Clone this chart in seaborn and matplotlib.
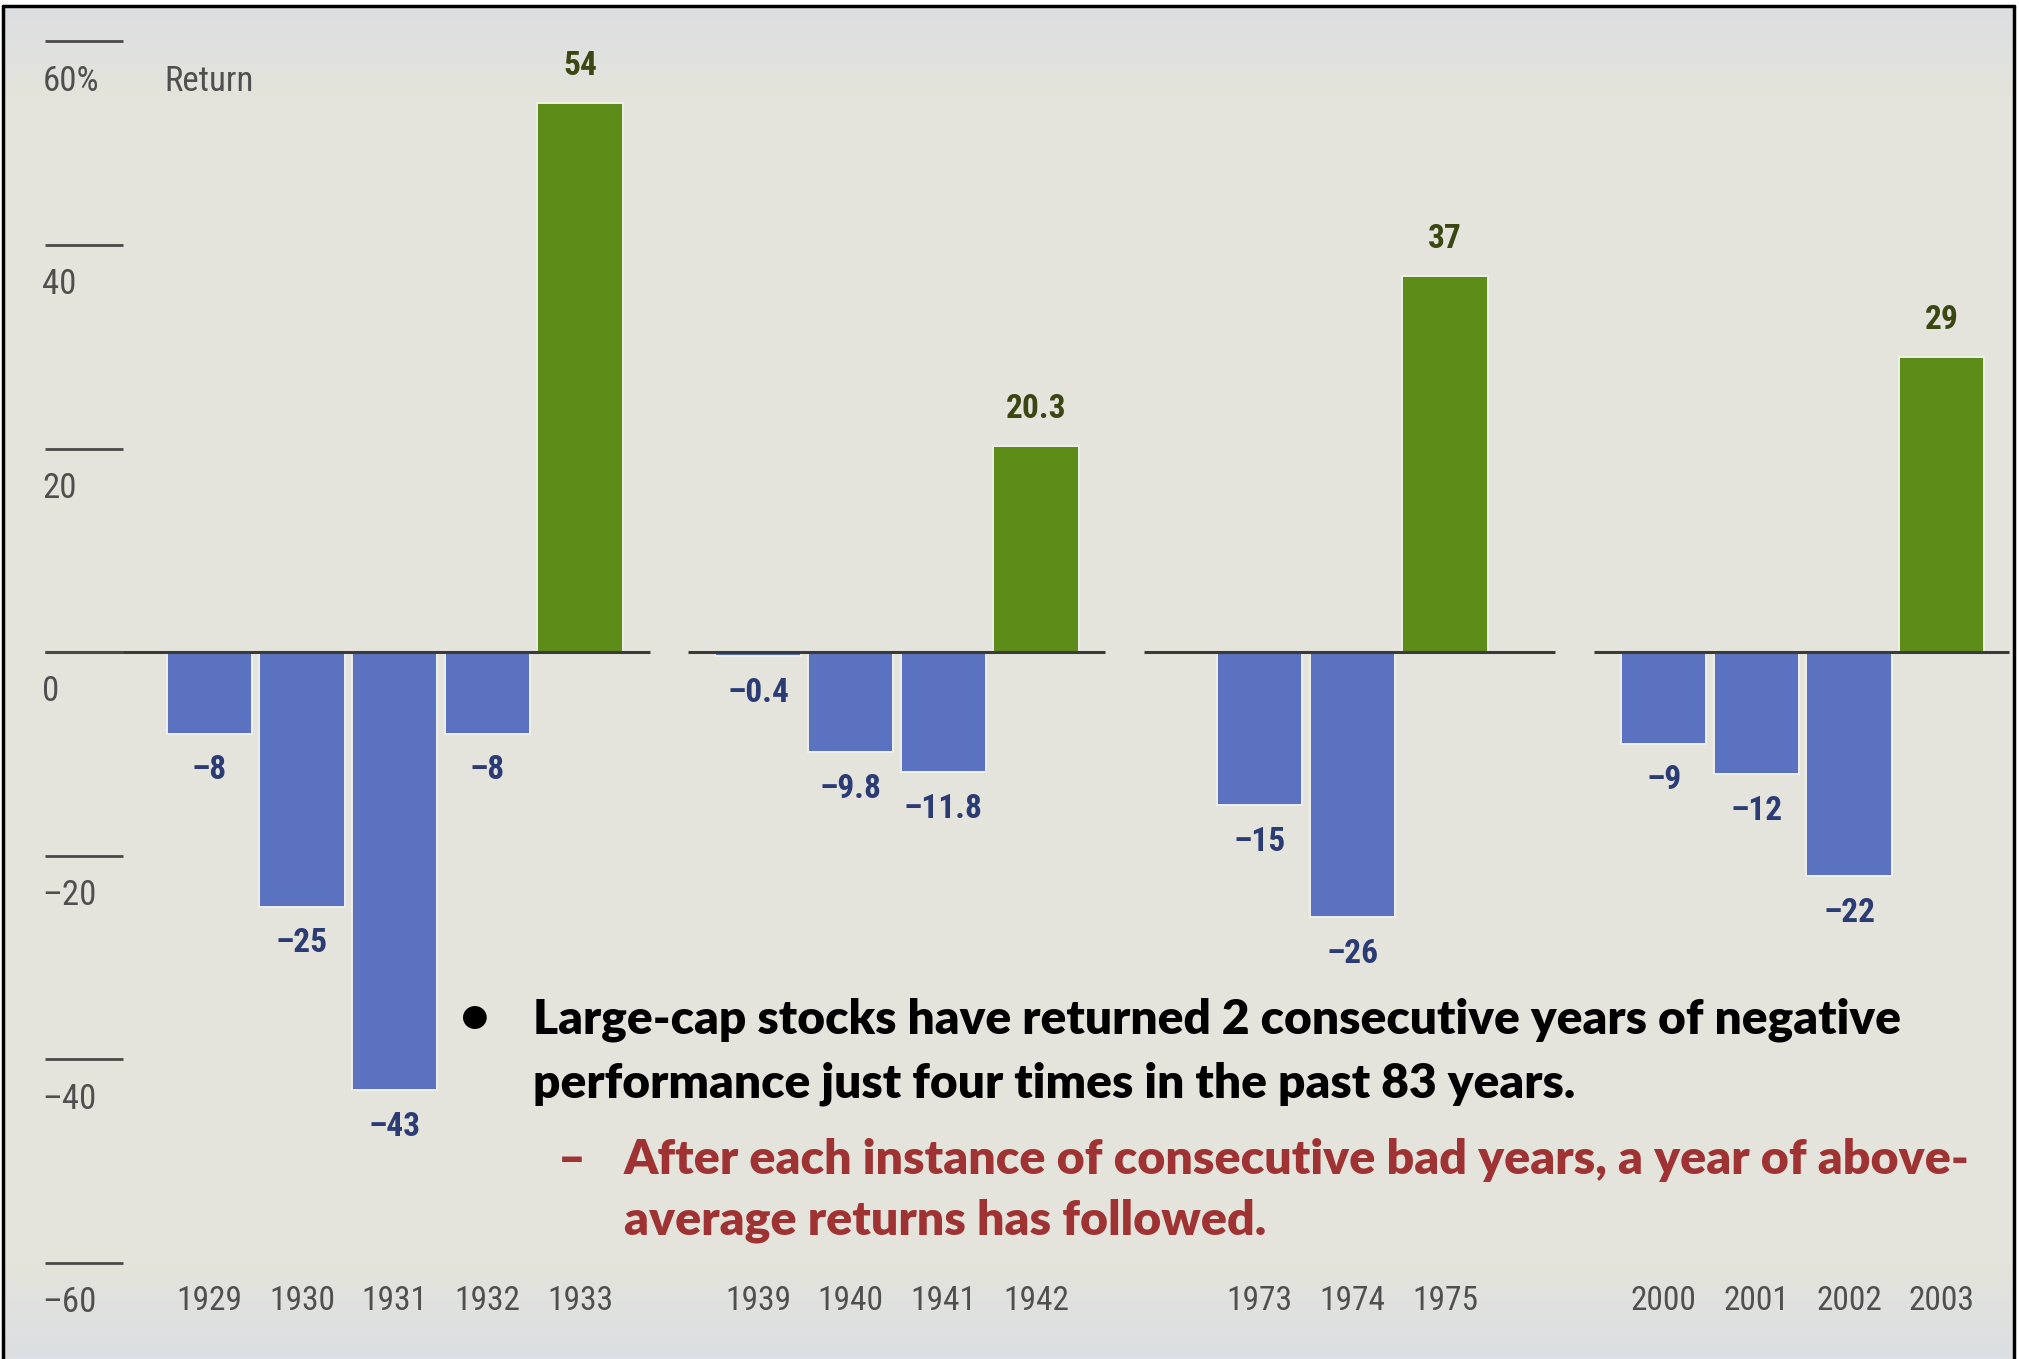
import numpy as np
import pandas as pd
import matplotlib
matplotlib.use("Agg")
import matplotlib.pyplot as plt
from matplotlib import font_manager
from matplotlib.patches import Rectangle
import seaborn as sns

# ---- data -------------------------------------------------------------
years_1929 = ["1929", "1930", "1931", "1932", "1933"]
years_1939 = ["1939", "1940", "1941", "1942"]
years_1973 = ["1973", "1974", "1975"]
years_2000 = ["2000", "2001", "2002", "2003"]

# Annual total return of large-cap stocks, percent
returns_1929 = [-8, -25, -43, -8, 54]
returns_1939 = [-0.4, -9.8, -11.8, 20.3]
returns_1973 = [-15, -26, 37]
returns_2000 = [-9, -12, -22, 29]

y_ticks = [60, 40, 20, 0, -20, -40, -60]
y_tick_labels = ["60%", "40", "20", "0", "\u201320", "\u201340", "\u201360"]
axis_title = "Return"

bullet_lines = [
    "Large-cap stocks have returned 2 consecutive years of negative",
    "performance just four times in the past 83 years.",
]
sub_lines = [
    "After each instance of consecutive bad years, a year of above-",
    "average returns has followed.",
]

# ---- layout -----------------------------------------------------------
W, H = 2019, 1359
group_start = [0.0, 5.92, 11.33, 15.69]      # in bar-pitch units
zero_breaks = [4.96, 9.87, 14.73]            # gaps in the zero rule
X_LIM = (-2.257, 19.523)
Y_LIM = (-69.43, 64.07)

BLUE = "#5a72bf"
GREEN = "#5d8c19"
BLUE_TXT = "#2b3b74"
GREEN_TXT = "#3a4712"
GRAY_TXT = "#4f4f4f"
RED_TXT = "#9f3334"
BG = "#e3e3dc"

# pick a narrow face for the chart lettering
installed = {f.name for f in font_manager.fontManager.ttflist}
NARROW = [f for f in ["Roboto Condensed", "Liberation Sans Narrow",
                      "DejaVu Sans"] if f in installed] + ["DejaVu Sans"]
BODY = ["Lato", "DejaVu Sans"]
NARROW_KW = dict(family=NARROW, fontstretch="condensed")

groups = [
    (years_1929, returns_1929),
    (years_1939, returns_1939),
    (years_1973, returns_1973),
    (years_2000, returns_2000),
]

rows = []
for g, (yrs, rets) in enumerate(groups):
    for i, (yr, r) in enumerate(zip(yrs, rets)):
        rows.append({"year": yr, "ret": r, "pos": group_start[g] + i,
                     "group": g, "sign": "up" if r > 0 else "down"})
df = pd.DataFrame(rows)

sns.set_theme(style="white")
plt.rcParams["font.family"] = NARROW

fig = plt.figure(figsize=(W / 100, H / 100), dpi=100, facecolor=BG)
ax = fig.add_axes([0, 0, 1, 1])
ax.set_facecolor(BG)

# soft paper shading: cooler at the top and bottom edges
t = np.linspace(0, 1, 256)[:, None]
top = np.array([0xdb, 0xde, 0xe3]) / 255
mid = np.array([0xe4, 0xe4, 0xdc]) / 255
bot = np.array([0xdc, 0xdf, 0xe3]) / 255
w_top = np.clip(1 - t / 0.07, 0, 1)
w_bot = np.clip((t - 0.93) / 0.07, 0, 1)
grad = (mid * (1 - w_top - w_bot) + top * w_top + bot * w_bot).reshape(256, 1, 3)
ax.imshow(grad, extent=(X_LIM[0], X_LIM[1], Y_LIM[0], Y_LIM[1]),
          aspect="auto", origin="upper", zorder=0)

sns.barplot(data=df, x="pos", y="ret", hue="sign",
            palette={"up": GREEN, "down": BLUE}, native_scale=True,
            width=0.92, dodge=False, errorbar=None, legend=False,
            edgecolor="#eef0ea", linewidth=1.4, saturation=1, ax=ax, zorder=2)

# broken zero line, one segment per episode
seg_left = [-1.77] + [b + 0.21 for b in zero_breaks]
seg_right = [b - 0.21 for b in zero_breaks] + [19.41]
ax.hlines([0] * len(seg_left), seg_left, seg_right, color="#3a3a3a",
          lw=2.2, zorder=3)

# y scale: short rules with values set beneath them
ax.hlines(y_ticks, -1.77, -0.93, color="#4a4a4a", lw=2.0, zorder=3)
for v, lab in zip(y_ticks, y_tick_labels):
    ax.text(-1.80, v - 3.9, lab, ha="left", va="center", fontsize=25,
            color=GRAY_TXT, **NARROW_KW)
ax.text(-0.48, y_ticks[0] - 3.9, axis_title, ha="left", va="center",
        fontsize=25, color=GRAY_TXT, **NARROW_KW)

# value labels and year labels
for _, r in df.iterrows():
    txt = f"{r.ret:g}".replace("-", "\u2013")
    if r.ret > 0:
        ax.text(r.pos, r.ret + 3.6, txt, ha="center", va="center",
                fontsize=24, weight="bold", color=GREEN_TXT, **NARROW_KW)
    else:
        ax.text(r.pos, r.ret - 3.6, txt, ha="center", va="center",
                fontsize=24, weight="bold", color=BLUE_TXT, **NARROW_KW)
    ax.text(r.pos, -63.7, r.year, ha="center", va="center", fontsize=24,
            color=GRAY_TXT, **NARROW_KW)

ax.set_xlim(*X_LIM)
ax.set_ylim(*Y_LIM)
ax.set_axis_off()

# ---- commentary -------------------------------------------------------
def fx(px):
    return px / W

def fy(py):
    return 1 - py / H

body_kw = dict(ha="left", va="center", weight="heavy", family=BODY)
body_size = 38
t1 = fig.text(fx(533), fy(1020), bullet_lines[0], fontsize=body_size,
              color="black", **body_kw)
fig.canvas.draw()
bb = t1.get_window_extent()
body_size = body_size * (1899 - 533) / bb.width
t1.set_fontsize(body_size)

fig.text(fx(461), fy(1018), "\u2022", fontsize=body_size, color="black", **body_kw)
fig.text(fx(533), fy(1084), bullet_lines[1], fontsize=body_size,
         color="black", **body_kw)
fig.text(fx(558), fy(1160), "\u2013", fontsize=body_size, color=RED_TXT, **body_kw)
fig.text(fx(624), fy(1160), sub_lines[0], fontsize=body_size * 1.01,
         color=RED_TXT, **body_kw)
fig.text(fx(624), fy(1221), sub_lines[1], fontsize=body_size * 1.01,
         color=RED_TXT, **body_kw)

# ---- page frame -------------------------------------------------------
fig.patches.append(Rectangle((0, fy(6)), 1, 1, transform=fig.transFigure,
                             facecolor="white", edgecolor="none", zorder=5))
fig.patches.append(Rectangle((0, 0), fx(3), 1, transform=fig.transFigure,
                             facecolor="white", edgecolor="none", zorder=5))
fig.patches.append(Rectangle((fx(2014), 0), 1, 1, transform=fig.transFigure,
                             facecolor="white", edgecolor="none", zorder=5))
fig.add_artist(plt.Line2D([fx(3), fx(3)], [0, fy(6)], color="black", lw=2.5,
                          transform=fig.transFigure, zorder=6))
fig.add_artist(plt.Line2D([fx(2014), fx(2014)], [0, fy(6)], color="black",
                          lw=2.5, transform=fig.transFigure, zorder=6))
fig.add_artist(plt.Line2D([fx(3), fx(2014)], [fy(6), fy(6)], color="black",
                          lw=2.5, transform=fig.transFigure, zorder=6))

fig.savefig("out.png", dpi=100, facecolor=BG)
